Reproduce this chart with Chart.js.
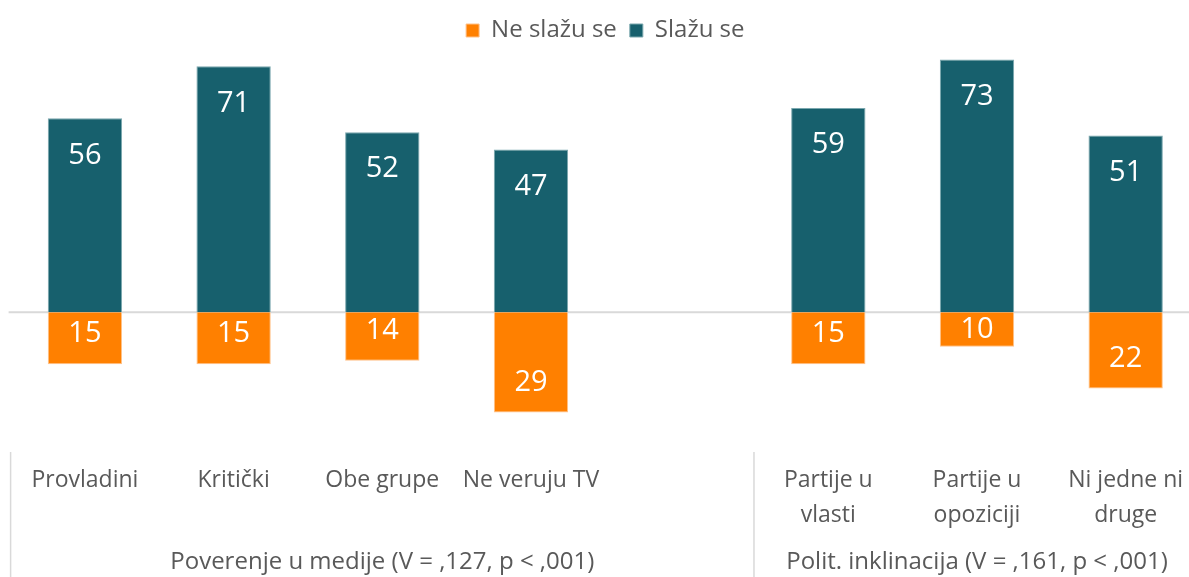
<!DOCTYPE html>
<html>
<head>
<meta charset="utf-8">
<script src="https://cdn.jsdelivr.net/npm/chart.js@4"></script>
<style>
  html, body { margin: 0; padding: 0; background: #fff; overflow: hidden; }
  #wrap { position: absolute; left: 0; top: 0; width: 1200px; height: 577px; }
</style>
</head>
<body>
<div id="wrap"><canvas id="chart"></canvas></div>
<script>
const categories = [
  "Provladini",
  "Kritički",
  "Obe grupe",
  "Ne veruju TV",
  "",
  ["Partije u", "vlasti"],
  ["Partije u", "opoziciji"],
  ["Ni jedne ni", "druge"],
];
const agree = [56, 71, 52, 47, null, 59, 73, 51];
const disagree = [15, 15, 14, 29, null, 15, 10, 22];
const seriesNames = ["Ne slažu se", "Slažu se"];
const groupLabels = [
  "Poverenje u medije (V = ,127, p < ,001)",
  "Polit. inklinacija (V = ,161, p < ,001)",
];
const groupRanges = [[0, 4], [5, 7]];

const FONT = '"Open Sans", "Noto Sans", sans-serif';
const TEXT = "#595959";
const ORANGE = "#ff8000";
const TEAL = "#17606d";

const valueLabels = {
  id: "valueLabels",
  afterDatasetsDraw(chart) {
    const ctx = chart.ctx;
    const zero = chart.scales.y.getPixelForValue(0);
    ctx.save();
    ctx.fillStyle = "#fff";
    ctx.font = "29px " + FONT;
    ctx.textAlign = "center";
    ctx.textBaseline = "middle";
    chart.data.datasets.forEach((ds, i) => {
      chart.getDatasetMeta(i).data.forEach((bar, j) => {
        const v = ds.data[j];
        if (v == null) return;
        let y;
        if (v > 0) {
          y = bar.y + 37;
        } else {
          y = Math.max(bar.y - 30, zero + 18);
        }
        ctx.fillText(String(Math.abs(v)), bar.x, y);
      });
    });
    ctx.restore();
  },
};

const decorations = {
  id: "decorations",
  beforeDatasetsDraw(chart) {
    const ctx = chart.ctx;
    const area = chart.chartArea;
    const zero = chart.scales.y.getPixelForValue(0);
    ctx.save();
    ctx.strokeStyle = "#d9d9d9";
    ctx.lineWidth = 2;
    ctx.beginPath();
    ctx.moveTo(area.left - 2, zero);
    ctx.lineTo(area.right, zero);
    ctx.stroke();
    ctx.restore();
  },
  afterDraw(chart) {
    const ctx = chart.ctx;
    const x = chart.scales.x;
    const half = (x.getPixelForValue(1) - x.getPixelForValue(0)) / 2;
    ctx.save();
    ctx.strokeStyle = "#d9d9d9";
    ctx.lineWidth = 1.5;
    ctx.fillStyle = TEXT;
    ctx.font = "24px " + FONT;
    ctx.textAlign = "center";
    ctx.textBaseline = "middle";
    groupRanges.forEach((r, i) => {
      const left = x.getPixelForValue(r[0]) - half;
      const right = x.getPixelForValue(r[1]) + half;
      ctx.beginPath();
      ctx.moveTo(left, 452);
      ctx.lineTo(left, chart.height);
      ctx.stroke();
      ctx.fillText(groupLabels[i], (left + right) / 2, 562);
    });
    ctx.restore();
  },
};

new Chart(document.getElementById("chart"), {
  type: "bar",
  data: {
    labels: categories,
    datasets: [
      {
        label: seriesNames[0],
        data: disagree.map((v) => (v == null ? null : -v)),
        backgroundColor: ORANGE,
        borderColor: "#ffc28a",
        borderWidth: 1,
      },
      {
        label: seriesNames[1],
        data: agree,
        backgroundColor: TEAL,
        borderColor: "#7aa7ae",
        borderWidth: 1,
      },
    ],
  },
  options: {
    responsive: true,
    maintainAspectRatio: false,
    animation: false,
    layout: {
      padding: { left: 10.6, right: 0, top: 5.5, bottom: -2 },
    },
    datasets: {
      bar: {
        categoryPercentage: 1,
        barPercentage: 0.5,
      },
    },
    plugins: {
      legend: {
        position: "top",
        labels: {
          color: TEXT,
          font: { family: FONT, size: 24 },
          boxWidth: 13,
          boxHeight: 13,
          padding: 13,
        },
      },
      tooltip: { enabled: false },
    },
    scales: {
      x: {
        stacked: true,
        grid: { display: false, drawTicks: false },
        border: { display: false },
        ticks: {
          color: TEXT,
          font: { family: FONT, size: 23, lineHeight: 1.52 },
          padding: 46.5,
          maxRotation: 0,
          autoSkip: false,
        },
        afterFit(scale) {
          scale.paddingLeft = 0;
          scale.paddingRight = 0;
        },
      },
      y: {
        stacked: true,
        display: false,
        min: -30,
        max: 75,
      },
    },
  },
  plugins: [decorations, valueLabels],
});
</script>
</body>
</html>
